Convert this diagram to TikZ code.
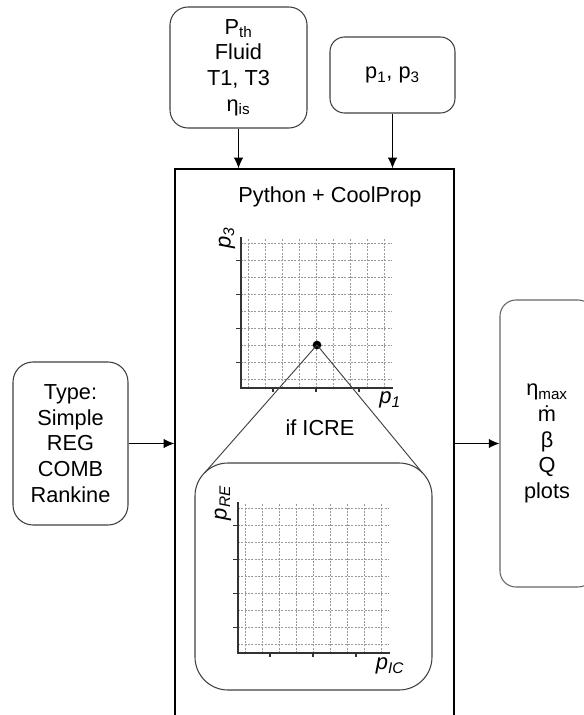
\documentclass[tikz,border=0pt]{standalone}
\usepackage{fontspec}
\setmainfont{Liberation Sans}
\usetikzlibrary{arrows.meta}
\begin{document}
\begin{tikzpicture}[x=0.75pt,y=-0.75pt,
  txt/.style={font=\fontsize{16.3}{19.2}\selectfont, align=center, inner sep=0pt},
  rbox/.style={draw=black!75, line width=0.8pt, rounded corners=#1, inner sep=0pt, txt},
  arr/.style={-{Latex[length=8pt,width=7pt]}, line width=0.8pt},
  gridl/.style={gray!80, dash pattern=on 1.5pt off 1pt, line width=0.35pt},
  axis/.style={black!80, line width=0.9pt},
  lab/.style={font=\fontsize{16.5}{18}\selectfont\itshape, inner sep=0pt},
  pgraph/.pic={
    \foreach \k in {0,...,8} {
      \draw[gridl] ({7+17*\k},0) -- ({7+17*\k},-149);
      \draw[gridl] (0,{-8.5-17*\k}) -- (151,{-8.5-17*\k});
    }
    \foreach \t in {25.5,59.5,93.5,127.5} \draw[axis] (-5,-\t) -- (0,-\t);
    \foreach \t in {32,75,118} \draw[axis] (\t,0) -- (\t,4);
    \draw[axis] (0,-151) -- (0,0) -- (152,0);
  }]
\useasboundingbox (0,0) rectangle (584,715);
\clip (0,0) rectangle (584,715);

% input boxes
\node[rbox=13.5pt, minimum width=102.75pt, minimum height=90.75pt] (in1) at (238.5,67.5)
  {P\textsubscript{th}\\Fluid\\T1, T3\\η\textsubscript{is}};
\node[rbox=11pt, minimum width=93.75pt, minimum height=57pt] (in2) at (392.5,75)
  {p\textsubscript{1}, p\textsubscript{3}};

% main box
\node[draw=black, line width=0.9pt, minimum width=209.25pt, minimum height=428.25pt, inner sep=0pt] (main) at (314.5,454.5) {};
\node[txt] (title) at (330,197) {Python + CoolProp};

% type box
\node[rbox=15pt, minimum width=86.25pt, minimum height=122.25pt] (type) at (70.5,443.5)
  {Type:\\Simple\\REG\\COMB\\Rankine};

% output box
\node[rbox=12pt, draw=black!60, minimum width=70.5pt, minimum height=215.25pt] (out) at (547,443.5)
  {η\textsubscript{max}\\ṁ\\β\\Q\\plots};

% arrows
\draw[arr] (in1.south) -- (in1.south |- main.north);
\draw[arr] (in2.south) -- (in2.south |- main.north);
\draw[arr] (type.east) -- (type.east -| main.west);
\draw[arr] (out.west -| main.east) -- (out.west);

% upper graph
\pic at (241,388) {pgraph};
\node[lab, rotate=90] (ly1) at (227,238) {p\textsubscript{3}};
\node[lab] (lx1) at (390,400) {p\textsubscript{1}};

% lower rounded box and graph
\node[rbox=24.75pt, minimum width=177.75pt, minimum height=170.25pt] (low) at (313.5,576.5) {};
\pic at (238,653) {pgraph};
\node[lab, rotate=90] (ly2) at (223,503) {p\textsubscript{RE}};
\node[lab] (lx2) at (390,666) {p\textsubscript{IC}};

% zoom lines
\node[circle, fill=black, inner sep=0pt, minimum size=6.5pt] (dot) at (317,345) {};
\coordinate (cl) at (204.7,472.7);
\coordinate (cr) at (422.3,472.7);
\draw[black!75, line width=0.7pt] (cl) -- (dot.center) -- (cr);
\node[txt] (icre) at (320,428) {if ICRE};
\end{tikzpicture}
\end{document}
